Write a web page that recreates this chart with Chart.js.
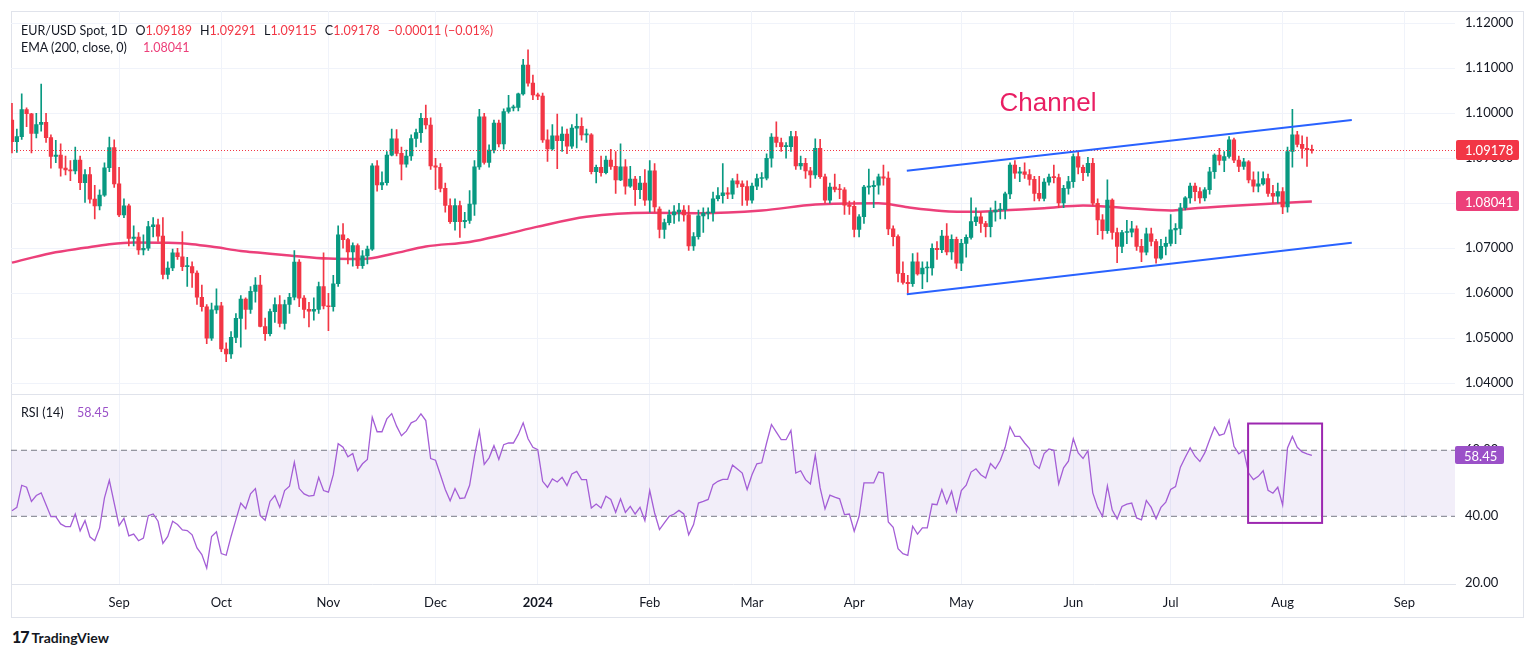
<!DOCTYPE html>
<html>
<head>
<meta charset="utf-8">
<title>EUR/USD Spot, 1D</title>
<script src="https://cdn.jsdelivr.net/npm/chart.js@4.4.1/dist/chart.umd.min.js"></script>
<style>
  html, body { margin: 0; padding: 0; background: #fff; }
  body { width: 1536px; height: 658px; position: relative; overflow: hidden;
         font-family: Lato, "Noto Sans", sans-serif; color: #131722; }
  .abs { position: absolute; }
  /* canvases overlap by 8px: that is the room Chart.js keeps for half a tick label */
  #mainWrap { left: 0; top: 0; width: 1536px; height: 402px; }
  #rsiWrap { left: 0; top: 386px; width: 1536px; height: 231px; }
  #frame { left: 11px; top: 11px; width: 1511px; height: 605px; border: 1px solid #e0e3eb; }
  #sep { left: 11px; top: 394px; width: 1512px; height: 1px; background: #e0e3eb; }
  .lg { position: absolute; font-size: 12.5px; line-height: 18px; white-space: nowrap; }
  .lg .gap { margin-left: 8px; }
  .red { color: #f23645; }
  .pink { color: #ec407a; }
  .purple { color: #9b51c8; }
  #logo { left: 12px; top: 628px; font-size: 14px; font-weight: bold; line-height: 18px; }
  #logo .mark { font-weight: 900; font-size: 16px; letter-spacing: -1px; margin-right: 3px; }
</style>
</head>
<body>
<div id="frame" class="abs"></div>
<div id="mainWrap" class="abs"><canvas id="mainChart"></canvas></div>
<div id="rsiWrap" class="abs"><canvas id="rsiChart"></canvas></div>
<div id="sep" class="abs"></div>

<div class="lg" style="left:21px;top:22px;">EUR/USD Spot, 1D<span class="gap">O<span class="red">1.09189</span></span><span class="gap">H<span class="red">1.09291</span></span><span class="gap">L<span class="red">1.09115</span></span><span class="gap">C<span class="red">1.09178</span></span><span class="gap red">&minus;0.00011 (&minus;0.01%)</span></div>
<span class="lg" style="left:21px;top:39px;">EMA (200, close, 0)</span>
<span class="lg pink" style="left:143px;top:39px;">1.08041</span>
<span class="lg" style="left:21px;top:404px;">RSI (14)</span>
<span class="lg purple" style="left:77px;top:404px;">58.45</span>
<div id="logo" class="abs"><span class="mark">17</span>TradingView</div>

<script>
const GREEN = "#089981";
const RED = "#f23645";
const EMA_COLOR = "#ec407a";
const RSI_COLOR = "#a45ed6";
const GRID = "#f0f3fa";
const TEXT = "#131722";

// Daily candles, 2 Aug 2023 -> 9 Aug 2024 (x = bar number)
const opens = [
  // Aug 2023
  1.0985,1.0937,1.0948,1.1008,1.0999,1.0955,1.0975,1.0980,1.0946,1.0904,1.0907,1.0878,1.0874,1.0872,1.0896,1.0846,1.0864,1.0809,1.0794,1.0818,1.0879,1.0924,
  // Sep
  1.0843,1.0774,1.0794,1.0722,1.0725,1.0696,1.0700,1.0748,1.0752,1.0727,1.0642,1.0656,1.0690,1.0681,1.0659,1.0659,1.0645,1.0591,1.0570,1.0500,1.0563,
  // Oct
  1.0572,1.0476,1.0465,1.0502,1.0544,1.0587,1.0564,1.0604,1.0618,1.0526,1.0510,1.0559,1.0575,1.0533,1.0575,1.0591,1.0669,1.0589,1.0564,1.0560,1.0564,1.0615,
  // Nov
  1.0572,1.0570,1.0621,1.0730,1.0719,1.0692,1.0706,1.0661,1.0683,1.0698,1.0883,1.0841,1.0846,1.0907,1.0943,1.0911,1.0887,1.0905,1.0944,1.0957,1.0989,1.0974,
  // Dec
  1.0883,1.0880,1.0833,1.0795,1.0759,1.0795,1.0759,1.0762,1.0798,1.0881,1.0992,1.0891,1.0918,1.0978,1.0932,1.1004,1.1012,1.1013,1.1043,1.1107,1.1067,
  // Jan 2024
  1.1041,1.1038,1.0941,1.0921,1.0950,1.0939,1.0954,1.0927,1.0967,1.0971,1.0952,1.0952,1.0870,1.0880,1.0868,1.0896,1.0882,1.0852,1.0881,1.0838,1.0854,1.0830,1.0845,
  // Feb
  1.0807,1.0872,1.0787,1.0742,1.0757,1.0774,1.0781,1.0785,1.0774,1.0705,1.0726,1.0772,1.0778,1.0779,1.0810,1.0817,1.0823,1.0820,1.0850,1.0843,1.0837,
  // Mar
  1.0807,1.0838,1.0855,1.0856,1.0900,1.0947,1.0935,1.0926,1.0926,1.0948,1.0883,1.0889,1.0872,1.0863,1.0922,1.0859,1.0807,1.0836,1.0831,1.0830,1.0796,
  // Apr
  1.0793,1.0742,1.0770,1.0836,1.0837,1.0840,1.0859,1.0856,1.0743,1.0726,1.0644,1.0624,1.0621,1.0670,1.0643,1.0656,1.0656,1.0700,1.0697,1.0727,1.0692,1.0720,
  // May
  1.0667,1.0711,1.0724,1.0759,1.0770,1.0755,1.0748,1.0781,1.0785,1.0786,1.0821,1.0885,1.0867,1.0870,1.0864,1.0853,1.0822,1.0811,1.0847,1.0858,1.0857,1.0801,1.0833,
  // Jun
  1.0848,1.0904,1.0880,1.0868,1.0889,1.0800,1.0763,1.0739,1.0807,1.0735,1.0704,1.0735,1.0736,1.0743,1.0704,1.0691,1.0732,1.0715,1.0678,1.0704,
  // Jul
  1.0711,1.0741,1.0744,1.0790,1.0812,1.0838,1.0826,1.0812,1.0830,1.0870,1.0907,1.0895,1.0904,1.0941,1.0896,1.0882,1.0892,1.0852,1.0838,1.0843,1.0855,1.0822,1.0816,
  // Aug
  1.0826,1.0792,1.0915,1.0952,1.0931,1.0922,1.09189
];
const highs = [
  1.1022,1.0965,1.1043,1.1012,1.1000,1.1000,1.1065,1.1000,1.0952,1.0940,1.0932,1.0905,1.0895,1.0925,1.0905,1.0875,1.0880,1.0840,1.0830,1.0890,1.0947,1.0941,
  1.0880,1.0810,1.0798,1.0750,1.0735,1.0730,1.0760,1.0768,1.0765,1.0768,1.0670,1.0698,1.0700,1.0737,1.0680,1.0670,1.0650,1.0618,1.0575,1.0578,1.0610,
  1.0580,1.0490,1.0515,1.0555,1.0595,1.0590,1.0615,1.0635,1.0640,1.0545,1.0565,1.0590,1.0595,1.0585,1.0600,1.0695,1.0675,1.0595,1.0580,1.0590,1.0625,1.0690,
  1.0600,1.0640,1.0750,1.0755,1.0722,1.0712,1.0710,1.0695,1.0705,1.0888,1.0895,1.0870,1.0915,1.0965,1.0964,1.0925,1.0918,1.0952,1.0965,1.1000,1.1018,1.0990,
  1.0900,1.0888,1.0845,1.0810,1.0810,1.0805,1.0780,1.0828,1.0895,1.1009,1.1000,1.0930,1.0985,1.0985,1.1010,1.1040,1.1018,1.1045,1.1120,1.1141,1.1085,
  1.1045,1.1045,1.0963,1.0975,1.0998,1.0970,1.0965,1.0975,1.0998,1.0990,1.0965,1.0955,1.0885,1.0905,1.0905,1.0920,1.0915,1.0932,1.0897,1.0882,1.0860,1.0860,1.0875,
  1.0895,1.0888,1.0792,1.0765,1.0785,1.0795,1.0800,1.0795,1.0795,1.0735,1.0785,1.0790,1.0790,1.0825,1.0835,1.0888,1.0835,1.0855,1.0865,1.0850,1.0850,
  1.0845,1.0865,1.0868,1.0910,1.0955,1.0981,1.0945,1.0935,1.0960,1.0960,1.0905,1.0900,1.0880,1.0943,1.0942,1.0865,1.0845,1.0865,1.0842,1.0835,1.0805,
  1.0805,1.0775,1.0840,1.0876,1.0850,1.0865,1.0885,1.0870,1.0750,1.0730,1.0670,1.0640,1.0688,1.0690,1.0670,1.0670,1.0710,1.0715,1.0740,1.0755,1.0730,1.0725,
  1.0720,1.0730,1.0812,1.0790,1.0780,1.0760,1.0790,1.0805,1.0800,1.0825,1.0890,1.0895,1.0880,1.0890,1.0875,1.0860,1.0860,1.0855,1.0865,1.0885,1.0865,1.0840,1.0860,
  1.0910,1.0916,1.0885,1.0902,1.0900,1.0810,1.0775,1.0852,1.0810,1.0745,1.0740,1.0762,1.0760,1.0750,1.0720,1.0745,1.0745,1.0720,1.0720,1.0725,
  1.0775,1.0755,1.0800,1.0815,1.0845,1.0845,1.0835,1.0835,1.0880,1.0910,1.0922,1.0915,1.0948,1.0945,1.0905,1.0900,1.0895,1.0870,1.0870,1.0870,1.0865,1.0840,1.0845,
  1.0835,1.0925,1.1009,1.0960,1.0950,1.0947,1.09291
];
const lows = [
  1.0912,1.0913,1.0942,1.0970,1.0912,1.0945,1.0960,1.0935,1.0878,1.0890,1.0860,1.0863,1.0850,1.0865,1.0830,1.0802,1.0800,1.0765,1.0785,1.0815,1.0870,1.0835,
  1.0770,1.0768,1.0705,1.0705,1.0686,1.0685,1.0695,1.0725,1.0715,1.0632,1.0632,1.0650,1.0675,1.0650,1.0615,1.0613,1.0575,1.0560,1.0488,1.0495,1.0555,
  1.0470,1.0448,1.0455,1.0490,1.0480,1.0520,1.0555,1.0580,1.0525,1.0495,1.0505,1.0535,1.0525,1.0520,1.0555,1.0585,1.0570,1.0545,1.0525,1.0540,1.0555,1.0565,
  1.0517,1.0560,1.0615,1.0700,1.0665,1.0660,1.0655,1.0655,1.0665,1.0695,1.0827,1.0830,1.0840,1.0905,1.0905,1.0852,1.0880,1.0895,1.0925,1.0935,1.0965,1.0875,
  1.0830,1.0825,1.0780,1.0755,1.0740,1.0724,1.0745,1.0755,1.0773,1.0875,1.0887,1.0880,1.0912,1.0925,1.0920,1.1000,1.1005,1.1005,1.1040,1.1060,1.1030,
  1.1030,1.0935,1.0893,1.0918,1.0877,1.0915,1.0910,1.0922,1.0923,1.0940,1.0935,1.0865,1.0845,1.0860,1.0865,1.0875,1.0822,1.0850,1.0820,1.0835,1.0795,1.0810,1.0795,
  1.0780,1.0780,1.0723,1.0722,1.0752,1.0755,1.0760,1.0760,1.0695,1.0695,1.0720,1.0735,1.0765,1.0760,1.0805,1.0800,1.0810,1.0810,1.0835,1.0795,1.0795,
  1.0800,1.0830,1.0835,1.0852,1.0880,1.0925,1.0915,1.0900,1.0915,1.0875,1.0875,1.0855,1.0835,1.0855,1.0855,1.0800,1.0800,1.0825,1.0810,1.0775,1.0775,
  1.0725,1.0725,1.0755,1.0820,1.0790,1.0820,1.0840,1.0730,1.0705,1.0625,1.0620,1.0600,1.0615,1.0640,1.0610,1.0625,1.0640,1.0675,1.0690,1.0685,1.0675,1.0655,
  1.0650,1.0680,1.0720,1.0750,1.0735,1.0725,1.0725,1.0760,1.0765,1.0765,1.0810,1.0855,1.0848,1.0855,1.0840,1.0805,1.0805,1.0805,1.0840,1.0845,1.0790,1.0790,1.0820,
  1.0835,1.0865,1.0850,1.0860,1.0795,1.0730,1.0720,1.0733,1.0720,1.0668,1.0690,1.0710,1.0725,1.0695,1.0670,1.0685,1.0705,1.0667,1.0675,1.0685,
  1.0705,1.0710,1.0730,1.0785,1.0800,1.0805,1.0800,1.0805,1.0820,1.0855,1.0885,1.0870,1.0900,1.0890,1.0870,1.0875,1.0845,1.0825,1.0825,1.0840,1.0815,1.0800,1.0800,
  1.0777,1.0780,1.0880,1.0925,1.0900,1.0882,1.09115
];
const closes = [
  1.0937,1.0948,1.1008,1.0999,1.0955,1.0975,1.0980,1.0946,1.0904,1.0907,1.0878,1.0874,1.0872,1.0896,1.0846,1.0864,1.0809,1.0794,1.0818,1.0879,1.0924,1.0843,
  1.0774,1.0794,1.0722,1.0725,1.0696,1.0700,1.0748,1.0752,1.0727,1.0642,1.0656,1.0690,1.0681,1.0659,1.0659,1.0645,1.0591,1.0570,1.0500,1.0563,1.0572,
  1.0476,1.0465,1.0502,1.0544,1.0587,1.0564,1.0604,1.0618,1.0526,1.0510,1.0559,1.0575,1.0533,1.0575,1.0591,1.0669,1.0589,1.0564,1.0560,1.0564,1.0615,1.0572,
  1.0570,1.0621,1.0730,1.0719,1.0692,1.0706,1.0661,1.0683,1.0698,1.0883,1.0841,1.0846,1.0907,1.0943,1.0911,1.0887,1.0905,1.0944,1.0957,1.0989,1.0974,1.0883,
  1.0880,1.0833,1.0795,1.0759,1.0795,1.0759,1.0762,1.0798,1.0881,1.0992,1.0891,1.0918,1.0978,1.0932,1.1004,1.1012,1.1013,1.1043,1.1107,1.1067,1.1041,
  1.1038,1.0941,1.0921,1.0950,1.0939,1.0954,1.0927,1.0967,1.0971,1.0952,1.0952,1.0870,1.0880,1.0868,1.0896,1.0882,1.0852,1.0881,1.0838,1.0854,1.0830,1.0845,1.0807,
  1.0872,1.0792,1.0742,1.0757,1.0774,1.0781,1.0785,1.0774,1.0705,1.0726,1.0772,1.0778,1.0779,1.0810,1.0817,1.0823,1.0820,1.0850,1.0843,1.0837,1.0807,
  1.0838,1.0855,1.0856,1.0900,1.0947,1.0935,1.0926,1.0926,1.0948,1.0883,1.0889,1.0872,1.0863,1.0922,1.0859,1.0807,1.0836,1.0831,1.0830,1.0796,1.0793,
  1.0742,1.0770,1.0836,1.0837,1.0840,1.0859,1.0856,1.0743,1.0726,1.0644,1.0624,1.0621,1.0670,1.0643,1.0656,1.0656,1.0700,1.0697,1.0727,1.0692,1.0720,1.0667,
  1.0711,1.0724,1.0759,1.0770,1.0755,1.0748,1.0781,1.0785,1.0786,1.0821,1.0885,1.0867,1.0870,1.0864,1.0853,1.0822,1.0811,1.0847,1.0858,1.0857,1.0801,1.0833,1.0848,
  1.0904,1.0880,1.0868,1.0889,1.0800,1.0763,1.0739,1.0807,1.0735,1.0704,1.0735,1.0736,1.0743,1.0704,1.0691,1.0732,1.0715,1.0678,1.0704,1.0711,
  1.0741,1.0744,1.0790,1.0812,1.0838,1.0826,1.0812,1.0830,1.0870,1.0907,1.0895,1.0904,1.0941,1.0896,1.0882,1.0892,1.0852,1.0838,1.0843,1.0855,1.0822,1.0816,1.0826,
  1.0792,1.0915,1.0952,1.0931,1.0922,1.0919,1.09178
];

// EMA 200 at some bars
const emaBars = [0,8,15,20,25,32,37,42,47,51,57,65,72,78,85,94,101,108,118,131,141,154,165,178,184,191,198,205,212,220,228,238,242,250,260,267];
const emaValues = [1.0668,1.0689,1.0701,1.0709,1.0713,1.0712,1.0709,1.0702,1.0694,1.0690,1.0684,1.0677,1.0676,1.0687,1.0704,1.0714,1.0730,1.0748,1.0770,1.0779,1.0778,1.0784,1.0797,1.0800,1.0791,1.0783,1.0781,1.0785,1.0789,1.0795,1.0790,1.0784,1.0788,1.0794,1.0800,1.0804];

// RSI (14), one value per bar
const rsiValues = [
  41.7,42.7,49.4,48.8,44.5,46.3,47.1,43.5,39.9,39.9,
  37.7,36.9,36.9,40.7,35.6,38.7,33.8,32.6,36.5,45.6,
  50.9,44.0,37.2,39.4,34.1,34.6,32.6,33.4,40.2,40.7,
  38.5,31.8,33.9,38.5,37.5,35.9,35.7,34.4,30.4,28.4,
  24.3,33.9,35.3,28.7,28.2,33.9,39.0,44.0,42.3,46.8,
  48.4,40.2,38.8,44.5,46.3,42.7,47.8,49.1,56.4,48.4,
  46.8,46.1,46.3,51.8,47.8,47.3,52.6,62.0,60.9,58.0,
  59.0,53.8,55.9,57.2,70.0,65.6,65.6,69.5,71.1,67.3,
  64.4,65.8,68.3,69.0,71.0,69.0,57.5,57.0,52.6,48.1,
  44.7,48.4,45.4,45.6,49.4,58.2,65.8,55.7,57.7,61.4,
  57.2,61.7,62.2,62.2,64.8,68.3,63.5,60.9,60.2,50.6,
  48.8,51.3,50.4,51.8,49.3,52.8,53.6,51.1,51.1,42.5,
  43.7,42.5,46.1,45.1,41.2,45.3,41.2,43.0,40.7,42.7,
  38.7,47.8,41.0,36.0,38.0,40.0,40.7,41.8,40.7,34.4,
  37.5,44.0,44.5,45.1,49.6,50.6,51.2,51.2,55.5,54.3,
  53.1,48.1,52.6,55.9,56.2,62.2,67.8,65.5,63.2,63.2,
  66.0,53.1,53.8,51.1,49.8,58.5,48.6,42.2,46.4,45.8,
  45.3,40.5,40.7,35.5,40.0,50.1,50.1,50.1,53.4,53.1,
  38.3,36.7,30.2,28.7,28.2,37.0,34.6,36.5,36.5,43.7,
  43.5,48.1,43.9,47.6,41.5,47.8,49.4,53.4,54.4,52.6,
  51.6,56.0,54.4,56.9,60.9,67.1,64.2,64.2,62.2,60.5,
  55.7,54.5,59.0,60.4,60.0,49.8,54.7,56.7,63.5,59.2,
  57.5,59.9,47.1,42.7,40.0,49.2,41.9,39.2,43.0,43.7,
  44.0,39.5,38.9,44.8,42.7,39.2,42.7,44.3,48.1,49.0,
  54.9,57.9,60.7,58.2,56.6,59.2,63.2,67.0,64.5,65.0,
  69.1,61.2,58.9,60.0,53.1,51.1,52.1,53.8,47.9,47.0,
  48.8,43.4,60.7,64.2,60.9,59.5,58.9,58.45
];

// month ticks (bar number of first trading day) and their labels
const monthBars = [22, 43, 65, 87, 108, 131, 152, 173, 195, 218, 238, 261, 286];
const monthLabels = ["Sep", "Oct", "Nov", "Dec", "2024", "Feb", "Mar", "Apr", "May", "Jun", "Jul", "Aug", "Sep"];
const priceTicks = [1.04, 1.05, 1.06, 1.07, 1.08, 1.09, 1.10, 1.11, 1.12];
const rsiTicks = [20, 40, 60];
const rsiBands = [60, 40];

// drawings: channel lines [bar, price], label, RSI box [bar, rsi]
const channelUpper = [[183.8, 1.0872], [275.2, 1.0985]];
const channelLower = [[183.8, 1.0598], [275.2, 1.0712]];
const channelLabel = { bar: 212.8, price: 1.1022, text: "Channel" };
const rsiBox = [[253.9, 68.1], [269.1, 38.0]];

const lastClose = closes[closes.length - 1];
const lastEma = emaValues[emaValues.length - 1];
const lastRsi = rsiValues[rsiValues.length - 1];

const X_MIN = -0.2, X_MAX = 296.4;
const P_MIN = 1.03756, P_MAX = 1.12273;
const R_MIN = 19.5, R_MAX = 77.1;

Chart.defaults.font.family = 'Lato, "Noto Sans", sans-serif';
Chart.defaults.font.size = 13;
Chart.defaults.color = TEXT;

const candleColor = (ctx) => closes[ctx.dataIndex] >= opens[ctx.dataIndex] ? GREEN : RED;

// right-hand axis: labels pushed out by an invisible tick mark
const rightAxisBase = {
  position: "right",
  border: { display: false },
  afterFit: (s) => { s.width = 68; },
};

function priceBox(ctx, area, yPix, text, color) {
  const h = 20, w = 63;
  ctx.fillStyle = color;
  ctx.beginPath();
  ctx.roundRect(area.right + 1, Math.round(yPix - h / 2), w, h, 2);
  ctx.fill();
  ctx.fillStyle = "#ffffff";
  ctx.font = '13px Lato, "Noto Sans", sans-serif';
  ctx.textAlign = "left";
  ctx.textBaseline = "middle";
  ctx.fillText(text, area.right + 10, yPix + 1);
}

const mainDrawings = {
  id: "mainDrawings",
  afterDatasetsDraw(chart) {
    const { ctx, chartArea: a, scales: { x, y } } = chart;
    ctx.save();
    ctx.beginPath();
    ctx.rect(a.left, a.top, a.right - a.left, a.bottom - a.top);
    ctx.clip();

    // last price line
    const ly = Math.round(y.getPixelForValue(lastClose)) + 0.5;
    ctx.strokeStyle = RED;
    ctx.lineWidth = 1;
    ctx.setLineDash([1, 2]);
    ctx.beginPath();
    ctx.moveTo(a.left, ly);
    ctx.lineTo(a.right, ly);
    ctx.stroke();
    ctx.setLineDash([]);

    // channel
    ctx.strokeStyle = "#2962ff";
    ctx.lineWidth = 2;
    [channelUpper, channelLower].forEach((line) => {
      ctx.beginPath();
      ctx.moveTo(x.getPixelForValue(line[0][0]), y.getPixelForValue(line[0][1]));
      ctx.lineTo(x.getPixelForValue(line[1][0]), y.getPixelForValue(line[1][1]));
      ctx.stroke();
    });

    ctx.fillStyle = "#e91e63";
    ctx.font = '26px "Liberation Sans", Arial, sans-serif';
    ctx.textAlign = "center";
    ctx.textBaseline = "middle";
    ctx.fillText(channelLabel.text, x.getPixelForValue(channelLabel.bar), y.getPixelForValue(channelLabel.price));
    ctx.restore();
  },
  afterDraw(chart) {
    const { ctx, chartArea: a, scales: { y } } = chart;
    ctx.save();
    priceBox(ctx, a, y.getPixelForValue(lastClose), lastClose.toFixed(5), RED);
    priceBox(ctx, a, y.getPixelForValue(lastEma), "1.08041", EMA_COLOR);
    ctx.restore();
  },
};

const rsiDrawings = {
  id: "rsiDrawings",
  afterDatasetsDraw(chart) {
    const { ctx, scales: { x, y } } = chart;
    ctx.save();
    const x0 = x.getPixelForValue(rsiBox[0][0]), x1 = x.getPixelForValue(rsiBox[1][0]);
    const y0 = y.getPixelForValue(rsiBox[0][1]), y1 = y.getPixelForValue(rsiBox[1][1]);
    ctx.strokeStyle = "#9c27b0";
    ctx.lineWidth = 2;
    ctx.strokeRect(x0, y0, x1 - x0, y1 - y0);
    ctx.restore();
  },
  afterDraw(chart) {
    const { ctx, chartArea: a, scales: { y } } = chart;
    const yPix = y.getPixelForValue(lastRsi);
    ctx.save();
    ctx.fillStyle = "#9b51c8";
    ctx.beginPath();
    ctx.roundRect(a.right, Math.round(yPix - 9), 49, 18, 2);
    ctx.fill();
    ctx.fillStyle = "#ffffff";
    ctx.font = '13px Lato, "Noto Sans", sans-serif';
    ctx.textAlign = "left";
    ctx.textBaseline = "middle";
    ctx.fillText(lastRsi.toFixed(2), a.right + 9, yPix + 1);
    ctx.restore();
  },
};

const bars = closes.map((c, i) => i);

// Price chart
new Chart(document.getElementById("mainChart"), {
  type: "bar",
  data: {
    datasets: [
      {
        type: "line",
        data: emaBars.map((b, k) => ({ x: b, y: emaValues[k] })),
        borderColor: EMA_COLOR,
        borderWidth: 2.5,
        pointRadius: 0,
        cubicInterpolationMode: "monotone",
        order: 3,
      },
      {
        data: bars.map((i) => ({ x: i, y: [lows[i], highs[i]] })),
        backgroundColor: candleColor,
        barThickness: 1,
        grouped: false,
        order: 2,
      },
      {
        data: bars.map((i) => ({ x: i, y: [opens[i], closes[i]] })),
        backgroundColor: candleColor,
        barThickness: 3.6,
        minBarLength: 1,
        grouped: false,
        order: 1,
      },
    ],
  },
  options: {
    responsive: true,
    maintainAspectRatio: false,
    animation: false,
    events: [],
    layout: { padding: { left: 11, top: 11, right: 13, bottom: 0 } },
    plugins: { legend: { display: false }, tooltip: { enabled: false } },
    scales: {
      x: {
        type: "linear",
        min: X_MIN,
        max: X_MAX,
        offset: false,
        grid: { color: GRID, drawTicks: false, offset: false },
        border: { display: false },
        ticks: { display: false },
        afterBuildTicks: (s) => { s.ticks = monthBars.map((v) => ({ value: v })); },
        afterFit: (s) => { s.height = 0; },
      },
      y: {
        ...rightAxisBase,
        min: P_MIN,
        max: P_MAX,
        grid: { color: GRID, drawTicks: true, tickLength: 10, tickColor: "rgba(0,0,0,0)" },
        ticks: { color: TEXT, padding: 0, callback: (v) => v.toFixed(5) },
        afterBuildTicks: (s) => { s.ticks = priceTicks.map((v) => ({ value: v })); },
      },
    },
  },
  plugins: [mainDrawings],
});

// RSI chart
new Chart(document.getElementById("rsiChart"), {
  type: "line",
  data: {
    datasets: [
      {
        data: [{ x: X_MIN, y: rsiBands[0] }, { x: X_MAX, y: rsiBands[0] }],
        borderColor: "#787b86",
        borderWidth: 1,
        borderDash: [6, 4],
        pointRadius: 0,
        fill: "+1",
        backgroundColor: "rgba(126, 87, 194, 0.1)",
        order: 3,
      },
      {
        data: [{ x: X_MIN, y: rsiBands[1] }, { x: X_MAX, y: rsiBands[1] }],
        borderColor: "#787b86",
        borderWidth: 1,
        borderDash: [6, 4],
        pointRadius: 0,
        fill: false,
        order: 2,
      },
      {
        data: bars.map((i) => ({ x: i, y: rsiValues[i] })),
        borderColor: RSI_COLOR,
        borderWidth: 1.3,
        pointRadius: 0,
        tension: 0,
        fill: false,
        order: 1,
      },
    ],
  },
  options: {
    responsive: true,
    maintainAspectRatio: false,
    animation: false,
    events: [],
    layout: { padding: { left: 11, top: 0, right: 13, bottom: 0 } },
    plugins: { legend: { display: false }, tooltip: { enabled: false } },
    scales: {
      x: {
        type: "linear",
        min: X_MIN,
        max: X_MAX,
        grid: { color: GRID, drawTicks: false },
        border: { display: true, color: "#e0e3eb" },
        ticks: {
          color: TEXT,
          padding: 11,
          autoSkip: false,
          maxRotation: 0,
          callback: (v) => monthLabels[monthBars.indexOf(v)],
          font: (ctx) => ({ size: 13, weight: ctx.tick && ctx.tick.value === 108 ? "bold" : "normal" }),
        },
        afterBuildTicks: (s) => { s.ticks = monthBars.map((v) => ({ value: v })); },
        afterFit: (s) => { s.height = 33; },
      },
      y: {
        ...rightAxisBase,
        min: R_MIN,
        max: R_MAX,
        grid: { display: false, drawTicks: true, tickLength: 10 },
        ticks: { color: TEXT, padding: 0, callback: (v) => v.toFixed(2) },
        afterBuildTicks: (s) => { s.ticks = rsiTicks.map((v) => ({ value: v })); },
      },
    },
  },
  plugins: [rsiDrawings],
});
</script>
</body>
</html>
